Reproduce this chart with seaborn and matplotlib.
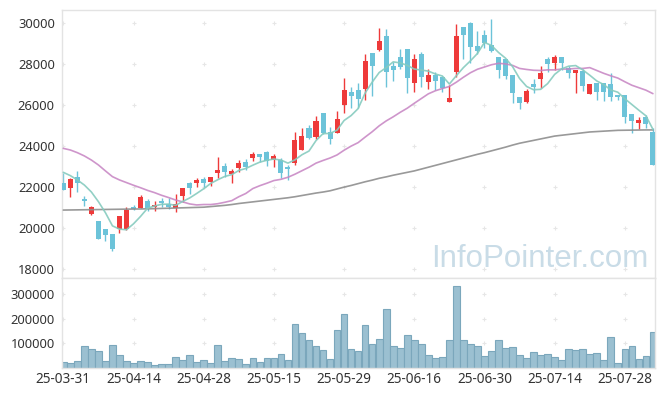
import numpy as np
import matplotlib
matplotlib.use("Agg")
import matplotlib.pyplot as plt
import seaborn as sns

# trading days shown on the chart (yy-mm-dd)
dates = ["25-03-31", "25-04-01", "25-04-02", "25-04-03", "25-04-04", "25-04-07", "25-04-08", "25-04-09",
         "25-04-10", "25-04-11", "25-04-14", "25-04-15", "25-04-16", "25-04-17", "25-04-18", "25-04-21",
         "25-04-22", "25-04-23", "25-04-24", "25-04-25", "25-04-28", "25-04-29", "25-04-30", "25-05-02",
         "25-05-07", "25-05-08", "25-05-09", "25-05-12", "25-05-13", "25-05-14", "25-05-15", "25-05-16",
         "25-05-19", "25-05-20", "25-05-21", "25-05-22", "25-05-23", "25-05-26", "25-05-27", "25-05-28",
         "25-05-29", "25-05-30", "25-06-02", "25-06-04", "25-06-05", "25-06-09", "25-06-10", "25-06-11",
         "25-06-12", "25-06-13", "25-06-16", "25-06-17", "25-06-18", "25-06-19", "25-06-20", "25-06-23",
         "25-06-24", "25-06-25", "25-06-26", "25-06-27", "25-06-30", "25-07-01", "25-07-02", "25-07-03",
         "25-07-04", "25-07-07", "25-07-08", "25-07-09", "25-07-10", "25-07-11", "25-07-14", "25-07-15",
         "25-07-16", "25-07-17", "25-07-18", "25-07-21", "25-07-22", "25-07-23", "25-07-24", "25-07-25",
         "25-07-28", "25-07-29", "25-07-30", "25-07-31", "25-08-01"]

opens = [22230, 21980, 22490, 21430, 20720, 20360, 19970, 19710, 19980, 19950,
         21040, 21010, 21320, 21040, 21330, 21190, 21010, 21580, 22210, 22210,
         22410, 22280, 22720, 23060, 22630, 22960, 23240, 23450, 23630, 23720,
         23350, 23350, 23010, 23200, 23840, 24890, 24470, 25610, 24680, 24670,
         26020, 26630, 26750, 26780, 28550, 28700, 29380, 27920, 28360, 28750,
         27070, 28500, 27160, 27480, 27400, 26180, 27640, 29800, 30000, 28880,
         29430, 28940, 28340, 28240, 27480, 26410, 26150, 27020, 27290, 28240,
         28080, 28340, 27810, 27560, 27680, 26540, 27070, 27070, 27020, 26500,
         26500, 25580, 25120, 25450, 24720]
highs = [22710, 22470, 22800, 21580, 21110, 20380, 19990, 19720, 20620, 21020,
         21150, 21610, 21450, 21320, 21500, 21460, 21660, 21980, 22260, 22460,
         22520, 22520, 23500, 23170, 22880, 23330, 23370, 23720, 23640, 23790,
         23610, 23410, 23090, 24680, 24880, 25020, 25460, 25620, 24960, 25720,
         27320, 26910, 27070, 28490, 28560, 29760, 29710, 28130, 28730, 28760,
         28490, 28620, 27760, 27640, 27410, 26990, 29970, 29840, 30080, 29630,
         29680, 30200, 28350, 28250, 27490, 26420, 26780, 27270, 27940, 28370,
         28460, 28350, 27920, 27730, 27770, 27060, 27080, 27080, 27590, 26520,
         26510, 25590, 25450, 25530, 24880]
lows = [21850, 21510, 21790, 21090, 20650, 19480, 19400, 18910, 19760, 19940,
        20900, 20990, 20850, 20830, 21060, 20940, 20780, 21300, 21660, 22030,
        22000, 22070, 22440, 22520, 22230, 22730, 22850, 23270, 23220, 23040,
        23010, 22440, 22360, 23090, 23800, 24380, 24360, 24620, 24110, 24630,
        25640, 25850, 25850, 26260, 26460, 28670, 26910, 27200, 27760, 26590,
        26670, 26880, 26780, 26750, 26670, 26160, 27400, 28240, 28050, 28500,
        28780, 28620, 27320, 27270, 26100, 25820, 26130, 26590, 26830, 27640,
        27720, 27720, 27320, 26590, 26720, 26530, 26260, 26230, 26230, 26260,
        25150, 24630, 24830, 24880, 23080]
closes = [21870, 22390, 22200, 21350, 21060, 19500, 19690, 18980, 20590, 20890,
          20940, 21510, 20990, 21140, 21250, 21020, 21190, 21950, 21970, 22360,
          22190, 22490, 22850, 22760, 22800, 23190, 23010, 23630, 23500, 23270,
          23510, 22720, 22910, 24310, 24500, 24420, 25240, 24630, 24340, 25330,
          26750, 26470, 26310, 28160, 27940, 29140, 27640, 27720, 27890, 27350,
          28260, 27370, 27480, 27200, 26830, 26340, 29380, 29450, 28830, 28670,
          29020, 28650, 27720, 27450, 26590, 26130, 26700, 26910, 27560, 28020,
          28340, 28080, 27560, 27720, 26940, 27040, 26670, 26670, 26420, 26390,
          25450, 25250, 25280, 25090, 23090]
volume = [23700, 18200, 27800, 87600, 75400, 67200, 26400, 91700, 50900, 26400,
          18200, 26400, 22300, 10100, 14100, 14100, 42700, 31800, 50900, 22300,
          30500, 18200, 91700, 26400, 38600, 34600, 14100, 38600, 22300, 38600,
          38600, 55000, 30500, 177400, 140700, 112100, 87600, 71300, 34600, 152900,
          218200, 75400, 68600, 173300, 95800, 116200, 238600, 87600, 79500, 132500,
          112100, 95800, 50900, 38600, 42700, 112100, 332500, 112100, 95800, 87600,
          46800, 67200, 112100, 79500, 83600, 50900, 38600, 63100, 50900, 55000,
          42700, 30500, 75400, 71300, 75400, 55000, 59000, 30500, 124400, 18200,
          75400, 87600, 34600, 46800, 146100]

# moving averages
ma5 = [22730, 22570, 22360, 22110, 21770, 21300, 20760, 20120, 19960, 19930,
       20220, 20580, 20980, 21090, 21170, 21180, 21120, 21310, 21480, 21700,
       21930, 22190, 22370, 22530, 22620, 22820, 22920, 23080, 23230, 23320,
       23380, 23330, 23180, 23340, 23590, 23770, 24280, 24620, 24630, 24790,
       25260, 25500, 25840, 26600, 27130, 27600, 27840, 28120, 28070, 27950,
       27770, 27720, 27670, 27530, 27430, 27040, 27450, 27840, 28170, 28530,
       29070, 28920, 28580, 28300, 27890, 27310, 26920, 26760, 26780, 27060,
       27510, 27780, 27910, 27940, 27730, 27470, 27190, 27010, 26750, 26640,
       26320, 26040, 25760, 25490, 24830]
ma20 = [23900, 23820, 23690, 23530, 23330, 23090, 22800, 22520, 22360, 22230,
        22100, 21980, 21850, 21740, 21610, 21500, 21380, 21290, 21190, 21140,
        21160, 21160, 21200, 21270, 21350, 21540, 21700, 21940, 22080, 22200,
        22330, 22390, 22490, 22640, 22810, 22980, 23180, 23310, 23430, 23580,
        23810, 24010, 24180, 24450, 24710, 25000, 25240, 25440, 25660, 25860,
        26100, 26330, 26560, 26710, 26820, 26920, 27130, 27370, 27590, 27760,
        27870, 27980, 28050, 28020, 27950, 27800, 27750, 27710, 27700, 27730,
        27730, 27770, 27770, 27800, 27800, 27840, 27700, 27560, 27440, 27330,
        27150, 26980, 26860, 26740, 26570]
ma60 = [20890, 20895, 20900, 20905, 20910, 20915, 20920, 20925, 20930, 20935,
        20940, 20945, 20950, 20960, 20970, 20980, 20990, 21000, 21010, 21020,
        21030, 21060, 21090, 21120, 21160, 21210, 21250, 21290, 21330, 21370,
        21410, 21450, 21490, 21540, 21600, 21660, 21720, 21770, 21830, 21920,
        22010, 22090, 22180, 22270, 22350, 22440, 22510, 22590, 22660, 22730,
        22800, 22890, 22980, 23070, 23160, 23250, 23340, 23430, 23520, 23610,
        23690, 23780, 23870, 23960, 24060, 24150, 24220, 24290, 24360, 24430,
        24500, 24540, 24580, 24620, 24660, 24700, 24720, 24740, 24760, 24780,
        24785, 24790, 24795, 24800, 24800]

up_color = "#ee3a3a"
down_color = "#6cc3d9"
grid_color = "#e6e6e6"
spine_color = "#e3e3e3"
label_color = "#333333"

sns.set_style("white")
plt.rcParams['font.family'] = ['Noto Sans', 'DejaVu Sans']

idx = np.arange(len(dates))
o = np.array(opens)
c = np.array(closes)
h = np.array(highs)
l = np.array(lows)
rising = c >= o

fig = plt.figure(figsize=(6.65, 3.96), dpi=100)
ax = fig.add_axes([0.0928, 0.298, 0.8922, 0.6767])
axv = fig.add_axes([0.0928, 0.0712, 0.8922, 0.2268], sharex=ax)

xlim = (-0.23, 84.3)
xticks = list(range(0, len(dates), 10))

# grid "+" marks at tick intersections
pt = [18000, 20000, 22000, 24000, 26000, 28000, 30000]
gx, gy = np.meshgrid(xticks, pt)
ax.scatter(gx.ravel(), gy.ravel(), marker='+', s=12, color=grid_color, linewidths=0.8, zorder=0)

# candles
cols = np.where(rising, up_color, down_color)
ax.vlines(idx, l, h, colors=cols, linewidth=1.0, zorder=2)
body_bottom = np.minimum(o, c)
body_height = np.maximum(np.abs(c - o), 60)
ax.bar(idx, body_height, bottom=body_bottom, width=0.72, color=cols, linewidth=0, zorder=3)

# moving averages
sns.lineplot(x=idx, y=ma60, ax=ax, color="#8e8e8e", linewidth=1.2, alpha=0.9, zorder=4)
sns.lineplot(x=idx, y=ma20, ax=ax, color="#c683c2", linewidth=1.2, alpha=0.85, zorder=4)
sns.lineplot(x=idx, y=ma5, ax=ax, color="#86cbbf", linewidth=1.2, alpha=0.9, zorder=4)

ax.set_ylim(17576, 30650)
ax.set_yticks(pt)
ax.set_yticklabels([str(v) for v in pt])

# watermark
fig.text(0.9744, 0.3265, "InfoPointer.com", ha='right', va='baseline',
         fontsize=22.5, color="#c9dce7", family=['Liberation Sans', 'DejaVu Sans'], zorder=1)

# volume panel
vt = [100000, 200000, 300000]
vx, vy = np.meshgrid(xticks, vt)
axv.scatter(vx.ravel(), vy.ravel(), marker='+', s=12, color=grid_color, linewidths=0.8, zorder=0)
axv.bar(idx, volume, width=0.95, color="#9bc0d1", edgecolor="#7ba7bc", linewidth=0.8, zorder=2)
axv.set_ylim(0, 366500)
axv.set_yticks(vt)
axv.set_yticklabels([str(v) for v in vt])

for a in (ax, axv):
    a.set_xlim(*xlim)
    a.set_xlabel("")
    a.set_ylabel("")
    for s in a.spines.values():
        s.set_color(spine_color)
        s.set_linewidth(1.0)
    a.tick_params(axis='both', length=0, labelsize=9.3, colors=label_color, pad=5)

ax.tick_params(axis='x', labelbottom=False)
axv.set_xticks(xticks)
axv.set_xticklabels([dates[i] for i in xticks])
axv.tick_params(axis='x', pad=3, labelsize=9.8)

fig.savefig("out.png", dpi=100)
